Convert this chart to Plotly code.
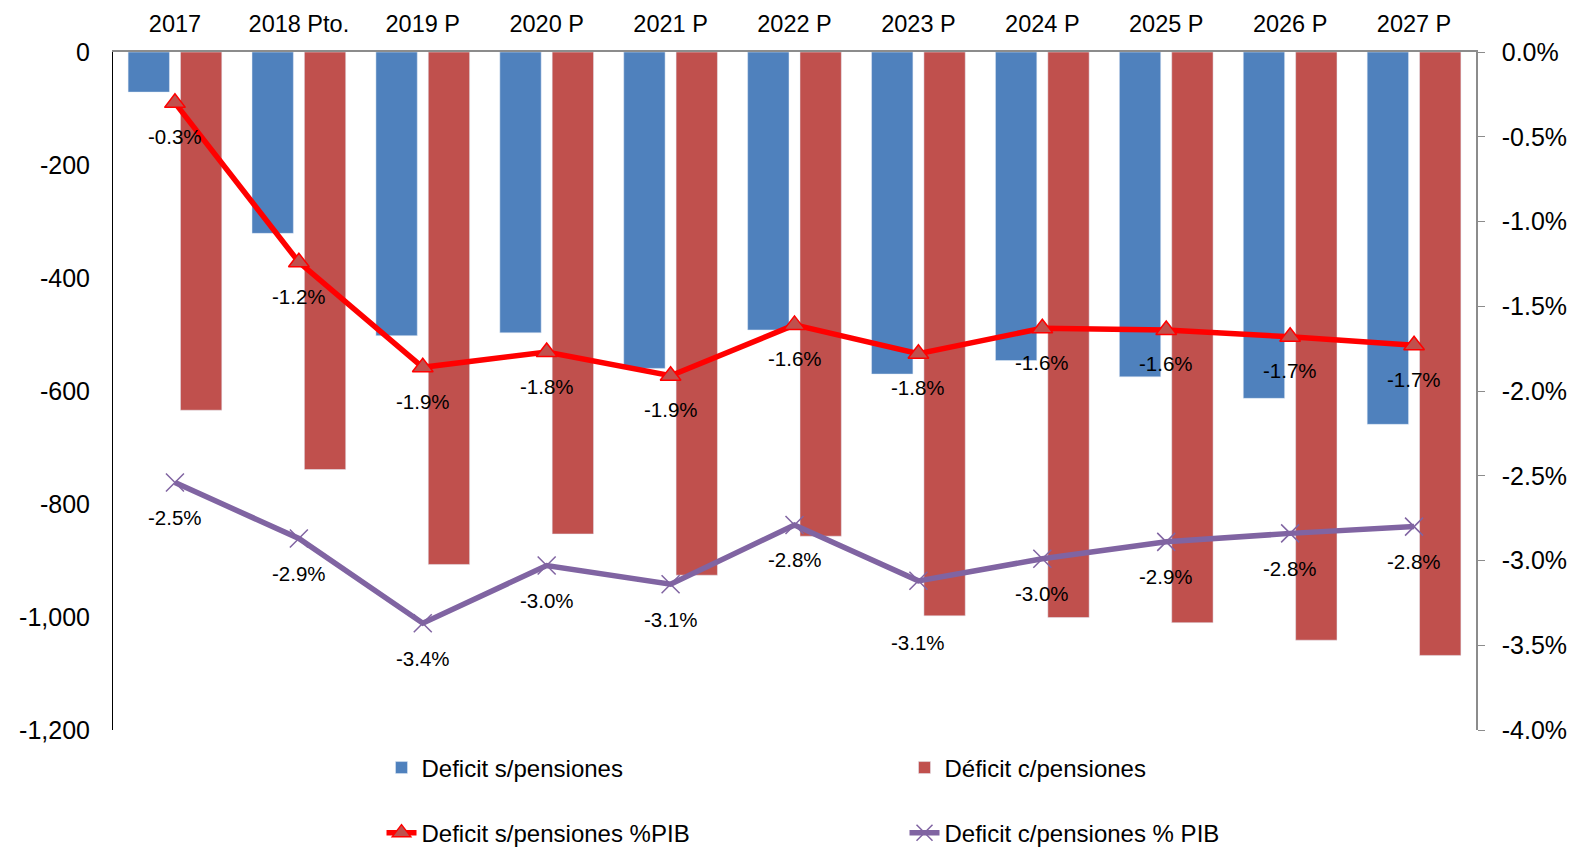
import plotly.graph_objects as go

# data
years = ["2017", "2018 Pto.", "2019 P", "2020 P", "2021 P", "2022 P",
         "2023 P", "2024 P", "2025 P", "2026 P", "2027 P"]
deficit_sin = [-71, -321, -502, -497, -560, -492, -570, -546, -575, -613, -659]
deficit_con = [-634, -739, -907, -853, -926, -857, -998, -1001, -1010, -1041, -1068]
# % of GDP (as fractions)
pib_sin = [-0.0030, -0.0124, -0.0186, -0.0177, -0.0191, -0.0161,
           -0.0178, -0.0163, -0.0164, -0.0168, -0.0173]
pib_con = [-0.0254, -0.0287, -0.0337, -0.0303, -0.0314, -0.0279,
           -0.0312, -0.0299, -0.0289, -0.0284, -0.0280]

left_ticks = [0, -200, -400, -600, -800, -1000, -1200]
right_ticks = [0, -0.005, -0.01, -0.015, -0.02, -0.025, -0.03, -0.035, -0.04]

FONT = "Arial, Liberation Sans, sans-serif"
BLUE = "#4F81BD"
RED_BAR = "#C0504D"
RED_LINE = "#FF0000"
PURPLE = "#8064A2"

fig = go.Figure()

fig.add_trace(go.Bar(
    x=years, y=deficit_sin, name="Deficit s/pensiones",
    marker=dict(color=BLUE), legend="legend",
))
fig.add_trace(go.Bar(
    x=years, y=deficit_con, name="Déficit c/pensiones",
    marker=dict(color=RED_BAR), legend="legend",
))
fig.add_trace(go.Scatter(
    x=years, y=pib_sin, yaxis="y2", name="Deficit s/pensiones %PIB",
    mode="lines+markers",
    line=dict(color=RED_LINE, width=5.5),
    marker=dict(symbol="triangle-up", size=18, color=RED_BAR,
                line=dict(color=RED_LINE, width=1.5)),
    legend="legend2",
))
fig.add_trace(go.Scatter(
    x=years, y=pib_con, yaxis="y2", name="Deficit c/pensiones % PIB",
    mode="lines+markers",
    line=dict(color=PURPLE, width=5.5),
    marker=dict(symbol="x-thin", size=18, color=PURPLE,
                line=dict(color=PURPLE, width=1.5)),
    legend="legend2",
))

# data labels below each point (x given as category index)
annotations = []
sin_shift = [-34] * len(years)
con_shift = [-35] * len(years)
con_shift[6] = -62
for values, shifts in ((pib_sin, sin_shift), (pib_con, con_shift)):
    for i, (v, s) in enumerate(zip(values, shifts)):
        annotations.append(dict(
            x=i, y=v, xref="x", yref="y2", text=f"{v:.1%}",
            showarrow=False, yshift=s,
            font=dict(family=FONT, size=20.5, color="black"),
        ))

# the page body adds an 8px offset, so the figure is 8px smaller
fig.update_layout(
    width=1573, height=839,
    margin=dict(l=105, r=104.5, t=43.7, b=117, autoexpand=False),
    paper_bgcolor="white", plot_bgcolor="white",
    font=dict(family=FONT, color="black"),
    barmode="group", bargap=0.155, bargroupgap=0.21,
    showlegend=True,
    annotations=annotations,
    xaxis=dict(
        type="category", side="top", showgrid=False, showline=True,
        range=[-0.5, len(years) - 0.5],
        linecolor="#8C8C8C", linewidth=1.5, automargin=False,
        tickfont=dict(size=23.5), ticklabelstandoff=9,
    ),
    yaxis=dict(
        range=[-1200, 0], showgrid=False, zeroline=False, automargin=False,
        showline=True, linecolor="black", linewidth=1,
        tickvals=left_ticks, ticktext=[f"{v:,}" for v in left_ticks],
        tickfont=dict(size=25), ticks="", ticklabelstandoff=17,
    ),
    yaxis2=dict(
        range=[-0.04, 0], overlaying="y", side="right", automargin=False,
        showgrid=False, zeroline=False,
        showline=True, linecolor="#8C8C8C", linewidth=1.5,
        ticks="outside", ticklen=7, tickcolor="#8C8C8C",
        tickvals=right_ticks, ticktext=[f"{v:.1%}" for v in right_ticks],
        tickfont=dict(size=25), ticklabelstandoff=12,
    ),
    legend=dict(
        orientation="h", x=0.197, y=-0.056, xanchor="left", yanchor="middle",
        font=dict(size=24), entrywidth=478, bgcolor="rgba(0,0,0,0)",
    ),
    legend2=dict(
        orientation="h", x=0.197, y=-0.152, xanchor="left", yanchor="middle",
        font=dict(size=24), entrywidth=478, bgcolor="rgba(0,0,0,0)",
    ),
)

fig.write_html("out.html")
